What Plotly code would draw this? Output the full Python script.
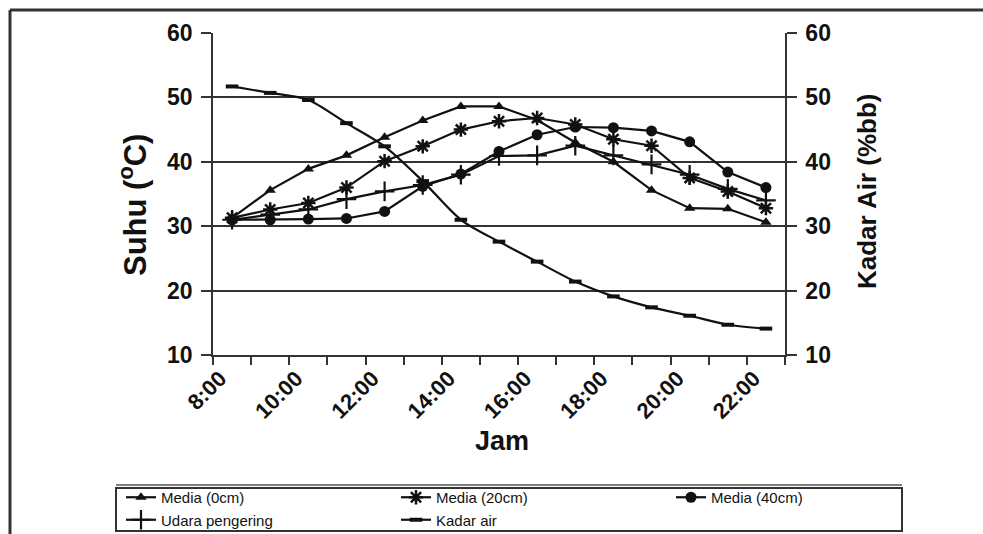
import plotly.graph_objects as go

# ---------------- data ----------------
hours = ["8:00", "9:00", "10:00", "11:00", "12:00", "13:00", "14:00", "15:00",
         "16:00", "17:00", "18:00", "19:00", "20:00", "21:00", "22:00"]
media_0cm = [31.3, 35.6, 38.9, 41.0, 43.8, 46.4, 48.6, 48.6, 46.5, 43.0, 40.0, 35.6, 32.8, 32.7, 30.6]
media_20cm = [31.3, 32.6, 33.6, 36.0, 40.1, 42.4, 45.0, 46.3, 46.8, 45.8, 43.5, 42.5, 37.5, 35.4, 32.8]
media_40cm = [31.0, 31.0, 31.1, 31.2, 32.3, 36.2, 38.1, 41.6, 44.2, 45.4, 45.3, 44.8, 43.1, 38.4, 36.0]
udara_pengering = [31.0, 31.8, 32.6, 34.2, 35.4, 36.4, 38.0, 40.9, 41.0, 42.5, 41.0, 39.6, 38.0, 35.8, 34.0]
kadar_air = [51.7, 50.7, 49.6, 46.0, 42.4, 37.0, 31.0, 27.6, 24.5, 21.4, 19.1, 17.4, 16.1, 14.7, 14.1]
y_ticks = [10, 20, 30, 40, 50, 60]

series_names = ["Media (0cm)", "Media (20cm)", "Media (40cm)", "Udara pengering", "Kadar air"]

# ---------------- layout geometry ----------------
W, H = 983, 534
ML, MR, MT, MB = 10, 10, 33, 179
PW = W - ML - MR
PH = H - MT - MB
AX_L, AX_R = 213, 785


def px2x(px):
    return (px - ML) / PW


def px2y(py):
    return (H - MB - py) / PH


x_idx = list(range(len(hours)))
INK = "#111111"
AXC = "#333333"
FONT = "Liberation Sans, Arial, sans-serif"
LEGFONT = "Liberation Sans Narrow, Arial Narrow, Liberation Sans, sans-serif"

fig = go.Figure()

fig.add_trace(go.Scatter(
    x=x_idx, y=media_0cm, name=series_names[0], mode="lines+markers",
    line=dict(color=INK, width=2.2),
    marker=dict(symbol="triangle-up", size=10, color=INK)))
fig.add_trace(go.Scatter(
    x=x_idx, y=media_20cm, name=series_names[1], mode="lines+markers",
    line=dict(color=INK, width=2.2),
    marker=dict(symbol="asterisk-open", size=12, color=INK, line=dict(color=INK, width=2.5))))
fig.add_trace(go.Scatter(
    x=x_idx, y=media_40cm, name=series_names[2], mode="lines+markers",
    line=dict(color=INK, width=2.2),
    marker=dict(symbol="circle", size=11, color=INK)))
fig.add_trace(go.Scatter(
    x=x_idx, y=udara_pengering, name=series_names[3], mode="lines+markers",
    line=dict(color=INK, width=2.2),
    marker=dict(symbol="cross-thin-open", size=14, color=INK, line=dict(color=INK, width=2.2))))
fig.add_trace(go.Scatter(
    x=x_idx, y=kadar_air, name=series_names[4], mode="lines+markers", yaxis="y2",
    line=dict(color=INK, width=2.2, shape="spline", smoothing=0.8),
    marker=dict(symbol="line-ew-open", size=9, color=INK, line=dict(color=INK, width=4))))

fig.update_layout(
    width=W, height=H,
    margin=dict(l=ML, r=MR, t=MT, b=MB, autoexpand=False),
    paper_bgcolor="white", plot_bgcolor="white",
    font=dict(family=FONT, color=INK),
    showlegend=True,
    legend=dict(
        orientation="h", x=px2x(121), y=px2y(481), xanchor="left", yanchor="top",
        entrywidth=230, entrywidthmode="pixels",
        font=dict(family=LEGFONT, size=15, color=INK),
        bgcolor="rgba(0,0,0,0)", borderwidth=0, tracegroupgap=0,
    ),
    xaxis=dict(
        domain=[px2x(AX_L), px2x(AX_R)],
        range=[-0.5, len(hours) - 0.5],
        tickmode="array", tickvals=x_idx[::2], ticktext=hours[::2],
        ticks="", tickangle=-45, ticklabelshift=-12,
        tickfont=dict(family=FONT, size=22, color=INK, weight="bold"),
        showline=True, linecolor=AXC, linewidth=2,
        showgrid=False, zeroline=False,
        minor=dict(tickmode="array", tickvals=[i - 0.5 for i in range(len(hours) + 1)],
                   ticks="outside", ticklen=8, tickwidth=1.5, tickcolor=AXC, showgrid=False),
    ),
    yaxis=dict(
        range=[10, 60], tickmode="array", tickvals=y_ticks,
        ticks="outside", ticklen=10, tickwidth=1.5, tickcolor=AXC,
        ticklabelstandoff=4,
        tickfont=dict(family=FONT, size=23, color=INK, weight="bold"),
        showline=True, linecolor=AXC, linewidth=1.5,
        showgrid=True, gridcolor=AXC, gridwidth=1.5, zeroline=False,
    ),
    yaxis2=dict(
        range=[10, 60], tickmode="array", tickvals=y_ticks,
        overlaying="y", side="right", anchor="x",
        ticks="outside", ticklen=10, tickwidth=1.5, tickcolor=AXC,
        ticklabelstandoff=4,
        tickfont=dict(family=FONT, size=23, color=INK, weight="bold"),
        showline=True, linecolor=AXC, linewidth=1.5,
        showgrid=False, zeroline=False,
    ),
    annotations=[
        dict(text="<b>Suhu (<sup>o</sup>C)</b>", xref="paper", yref="paper",
             x=px2x(133), y=px2y(205), textangle=-90, showarrow=False,
             font=dict(family=FONT, size=31, color=INK), xanchor="center", yanchor="middle"),
        dict(text="<b>Kadar Air (%bb)</b>", xref="paper", yref="paper",
             x=px2x(867), y=px2y(191), textangle=-90, showarrow=False,
             font=dict(family=FONT, size=26, color=INK), xanchor="center", yanchor="middle"),
        dict(text="<b>Jam</b>", xref="paper", yref="paper",
             x=px2x(502), y=px2y(441), showarrow=False,
             font=dict(family=FONT, size=27, color=INK), xanchor="center", yanchor="middle"),
    ],
    shapes=[
        # outer chart frame (top and left)
        dict(type="line", xref="paper", yref="paper", x0=px2x(10), x1=px2x(983),
             y0=px2y(10), y1=px2y(10), line=dict(color=AXC, width=3)),
        dict(type="line", xref="paper", yref="paper", x0=px2x(10), x1=px2x(10),
             y0=px2y(10), y1=px2y(534), line=dict(color=AXC, width=3)),
        # legend box
        dict(type="rect", xref="paper", yref="paper", x0=px2x(116), x1=px2x(902),
             y0=px2y(488), y1=px2y(531), line=dict(color=AXC, width=2)),
        dict(type="line", xref="paper", yref="paper", x0=px2x(116), x1=px2x(902),
             y0=px2y(485), y1=px2y(485), line=dict(color="#555555", width=1.5)),
    ],
)

fig.write_html("out.html")
